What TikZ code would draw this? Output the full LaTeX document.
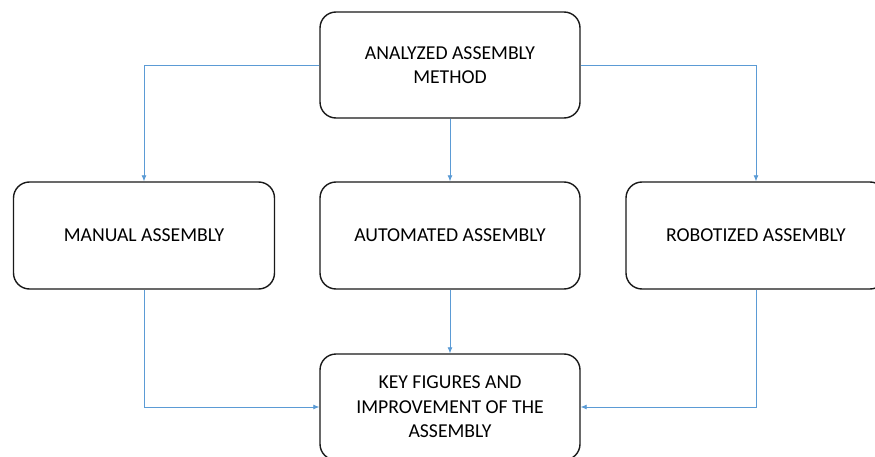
\documentclass[tikz,border=0pt]{standalone}
\usepackage{fontspec}
\setmainfont{Carlito}
\usetikzlibrary{arrows.meta}
\definecolor{linkblue}{HTML}{5B9BD5}
\tikzset{
  box/.style={draw=black!90, line width=1.4pt, rounded corners=16pt, fill=white,
    minimum width=260pt, minimum height=106pt, align=center,
    font=\fontsize{19.7}{24.5}\selectfont, text=black},
  link/.style={draw=linkblue, line width=0.8pt, -{Latex[length=6pt,width=5pt]}}
}
\begin{document}
\begin{tikzpicture}[x=1pt,y=-1pt]
  \useasboundingbox (0,0) rectangle (875,457);
  \node[box] (method) at (450,65) {ANALYZED ASSEMBLY\\METHOD};
  \node[box, minimum width=261pt, minimum height=107pt] (manual) at (144,235.5) {MANUAL ASSEMBLY};
  \node[box, minimum height=107pt] (auto) at (450,235.5) {AUTOMATED ASSEMBLY};
  \node[box, minimum height=107pt] (robot) at (756,235.5) {ROBOTIZED ASSEMBLY};
  \node[box] (key) at (450,407) {KEY FIGURES AND\\IMPROVEMENT OF THE\\ASSEMBLY};

  \draw[link] (method.west) -| (manual.north);
  \draw[link] (method.south) -- (auto.north);
  \draw[link] (method.east) -| (robot.north);
  \draw[link] (manual.south) |- (key.west);
  \draw[link] (auto.south) -- (key.north);
  \draw[link] (robot.south) |- (key.east);
\end{tikzpicture}
\end{document}
